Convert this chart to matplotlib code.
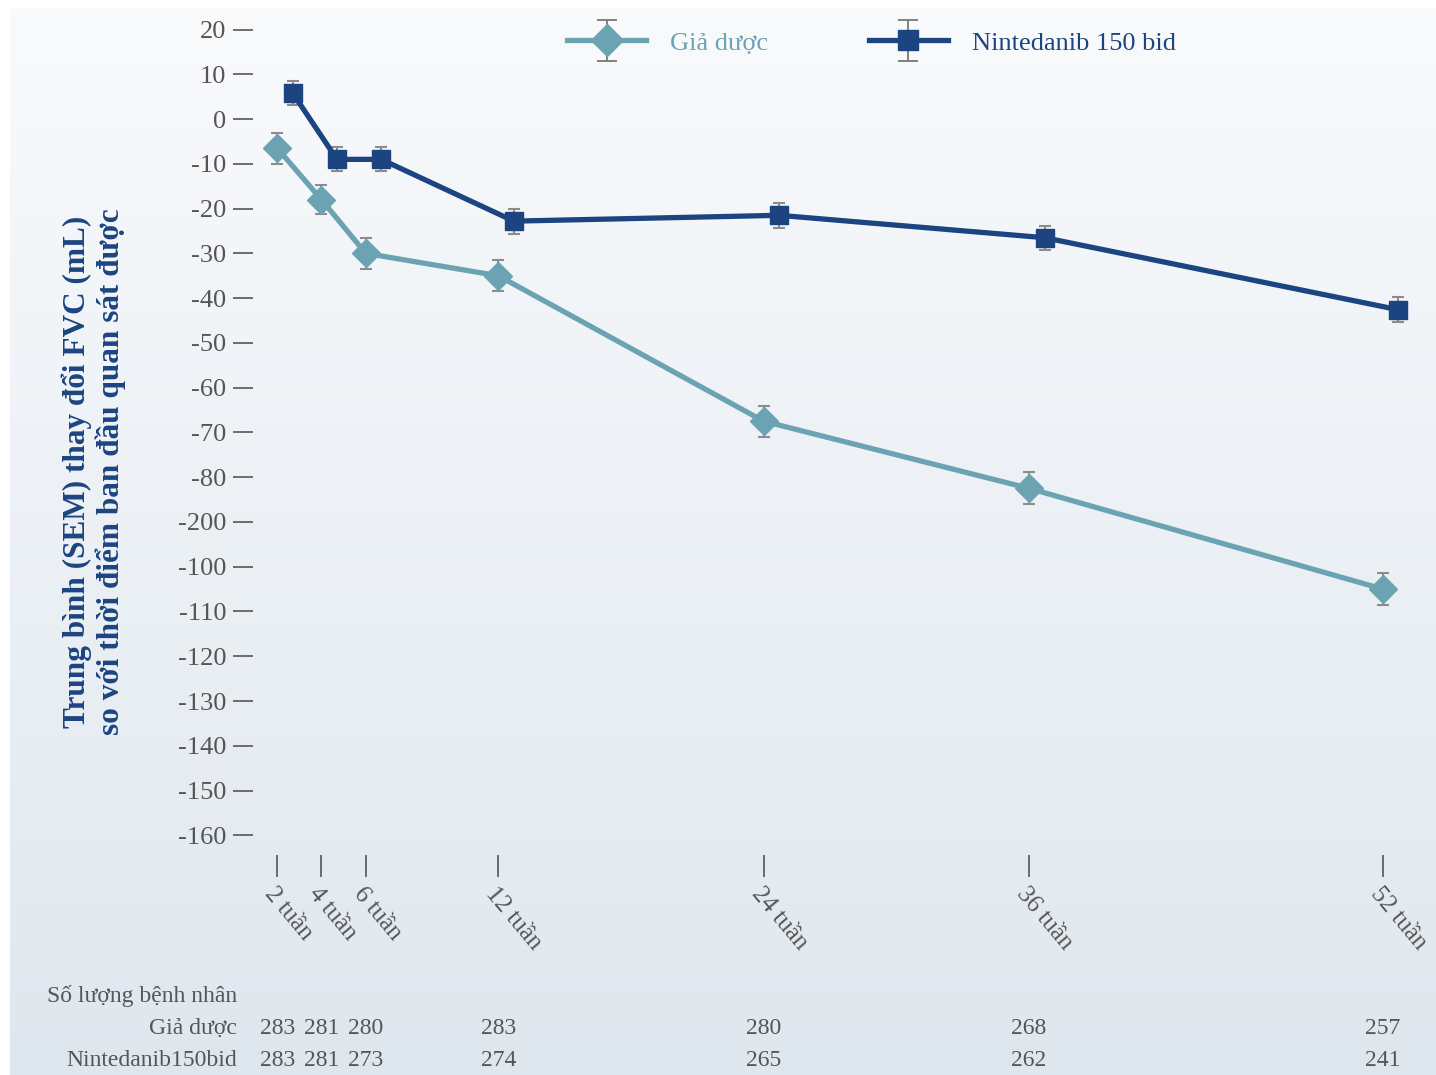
import matplotlib
matplotlib.use("Agg")
import matplotlib.pyplot as plt
import matplotlib.transforms as mtransforms
from matplotlib.legend_handler import HandlerErrorbar
import numpy as np

# data
weeks = [2, 4, 6, 12, 24, 36, 52]
week_labels = ["2 tuần", "4 tuần", "6 tuần", "12 tuần", "24 tuần", "36 tuần", "52 tuần"]
placebo = [-6.5, -18, -30, -35, -67.5, -82.5, -105]
placebo_sem = [3.5, 3.3, 3.4, 3.5, 3.5, 3.6, 3.6]
nintedanib = [5.8, -9, -9, -22.8, -21.5, -26.5, -42.6]
nintedanib_sem = [2.6, 2.7, 2.7, 2.8, 2.8, 2.7, 2.8]
n_placebo = [283, 281, 280, 283, 280, 268, 257]
n_nintedanib = [283, 281, 273, 274, 265, 262, 241]
ytick_values = [20, 10, 0, -10, -20, -30, -40, -50, -60, -70, -80, -90,
                -100, -110, -120, -130, -140, -150, -160]
ytick_labels = ["20", "10", "0", "-10", "-20", "-30", "-40", "-50", "-60", "-70",
                "-80", "-200", "-100", "-110", "-120", "-130", "-140", "-150", "-160"]

PLACEBO_COLOR = "#6ba3b3"
NINTE_COLOR = "#1c4480"
TEXT_GRAY = "#555555"
ERR_GRAY = "#8c8c8c"

plt.rcParams['font.family'] = ['Liberation Serif', 'DejaVu Serif']

fig = plt.figure(figsize=(14.36, 10.75), dpi=100)
fig.patch.set_facecolor("white")

# gradient background
bg = fig.add_axes([10 / 1436, 0, 1 - 10 / 1436, 1 - 8 / 1075], zorder=-5)
grad = np.linspace(0, 1, 256).reshape(-1, 1)
top = np.array([0xf9, 0xfa, 0xfc]) / 255
bottom = np.array([0xdf, 0xe7, 0xee]) / 255
img = top + (bottom - top) * grad[:, :, None]
bg.imshow(img, aspect="auto", extent=[0, 1, 0, 1], origin="upper")
bg.axis("off")

ax = fig.add_axes([233 / 1436, 1 - 855 / 1075, 1 - 233 / 1436, 855 / 1075])
ax.patch.set_alpha(0)
for s in ax.spines.values():
    s.set_visible(False)

ax.set_xlim(0, 54.4)
ax.set_ylim(-164.4, 26.6)

offset = 0.7
x_nin = [w + offset for w in weeks]

ax.errorbar(weeks, placebo, yerr=placebo_sem, fmt="none", ecolor=ERR_GRAY,
            elinewidth=1.5, capsize=4, capthick=1.5, zorder=2)
ax.errorbar(x_nin, nintedanib, yerr=nintedanib_sem, fmt="none", ecolor=ERR_GRAY,
            elinewidth=1.5, capsize=4, capthick=1.5, zorder=2)
ax.plot(weeks, placebo, color=PLACEBO_COLOR, lw=3.8, marker="D", ms=14.5, zorder=3)
ax.plot(x_nin, nintedanib, color=NINTE_COLOR, lw=3.8, marker="s", ms=12.5, zorder=3)

# legend handles (NaN placeholder so the caps exist but nothing is drawn)
h1 = ax.errorbar([np.nan], [np.nan], yerr=[1], color=PLACEBO_COLOR, lw=3.8, marker="D",
                 ms=16, ecolor="#777777", elinewidth=1.3, capsize=7, capthick=1.3)
h2 = ax.errorbar([np.nan], [np.nan], yerr=[1], color=NINTE_COLOR, lw=3.8, marker="s",
                 ms=14, ecolor="#777777", elinewidth=1.3, capsize=7, capthick=1.3)
leg = ax.legend([h1, h2], ["Giả dược", "Nintedanib 150 bid"], ncol=2, frameon=False,
                fontsize=19, handlelength=3.0, columnspacing=3.8, handletextpad=0.9,
                handler_map={type(h1): HandlerErrorbar(yerr_size=0.76)},
                loc="center left", bbox_to_anchor=((558 - 233) / 1203 - 0.012, 1 - 43 / 855))
leg.get_texts()[0].set_color(PLACEBO_COLOR)
leg.get_texts()[1].set_color(NINTE_COLOR)

ax.set_yticks(ytick_values)
ax.set_yticklabels(ytick_labels)
ax.tick_params(axis="y", direction="in", length=14.5, width=1.2, color=TEXT_GRAY,
               labelcolor=TEXT_GRAY, labelsize=19, pad=5)
ax.set_xticks(weeks)
ax.set_xticklabels(week_labels, rotation=-50, ha="left", rotation_mode="anchor")
ax.tick_params(axis="x", direction="out", length=16, width=1.2, color=TEXT_GRAY,
               labelcolor=TEXT_GRAY, labelsize=18, pad=4)

fig.text(94 / 1436, 1 - 472 / 1075,
         "Trung bình (SEM) thay đổi FVC (mL)\nso với thời điểm ban đầu quan sát được",
         rotation=90, ha="center", va="center", multialignment="center",
         fontsize=22.5, fontweight="bold", color=NINTE_COLOR, linespacing=1.15)

# patient number table
trans = mtransforms.blended_transform_factory(ax.transData, fig.transFigure)
fig.text(237 / 1436, 1 - 996 / 1075, "Số lượng bệnh nhân", ha="right", va="center",
         fontsize=17, color=TEXT_GRAY)
fig.text(237 / 1436, 1 - 1028 / 1075, "Giả dược", ha="right", va="center",
         fontsize=17, color=TEXT_GRAY)
fig.text(237 / 1436, 1 - 1060 / 1075, "Nintedanib150bid", ha="right", va="center",
         fontsize=17, color=TEXT_GRAY)
for w, a, b in zip(weeks, n_placebo, n_nintedanib):
    ax.text(w, 1 - 1028 / 1075, str(a), transform=trans, ha="center", va="center",
            fontsize=17, color=TEXT_GRAY, clip_on=False)
    ax.text(w, 1 - 1060 / 1075, str(b), transform=trans, ha="center", va="center",
            fontsize=17, color=TEXT_GRAY, clip_on=False)

fig.savefig("out.png", dpi=100)
